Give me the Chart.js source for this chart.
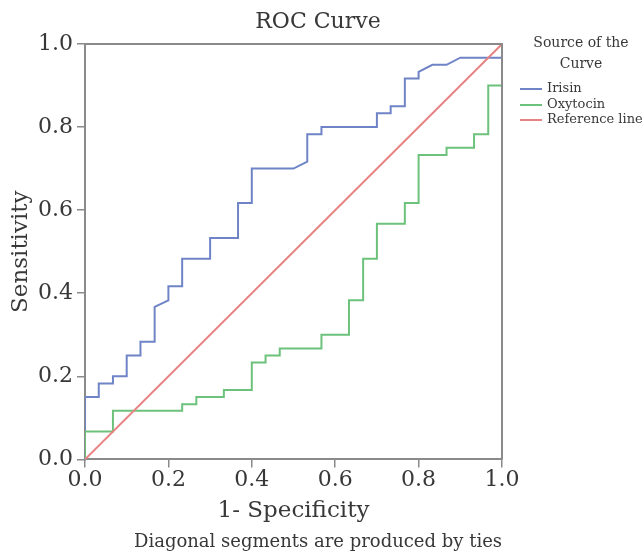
<!DOCTYPE html>
<html>
<head>
<meta charset="utf-8">
<script src="https://cdn.jsdelivr.net/npm/chart.js@4"></script>
<style>
  html, body { margin: 0; padding: 0; background: #fff; }
</style>
</head>
<body>
<canvas id="rocChart" width="644" height="556"></canvas>
<script>
// --- DADOS ---
const irisinFpr = [0, 0, 0.033, 0.033, 0.067, 0.067, 0.1, 0.1, 0.133, 0.133, 0.167, 0.167, 0.2, 0.2, 0.233, 0.233,
    0.3, 0.3, 0.367, 0.367, 0.4, 0.4, 0.5, 0.533, 0.533, 0.567, 0.567, 0.7, 0.7, 0.733, 0.733, 0.767, 0.767,
    0.8, 0.8, 0.833, 0.867, 0.9, 1, 1];
const irisinTpr = [0, 0.15, 0.15, 0.183, 0.183, 0.2, 0.2, 0.25, 0.25, 0.283, 0.283, 0.367, 0.383, 0.417, 0.417, 0.483,
    0.483, 0.533, 0.533, 0.617, 0.617, 0.7, 0.7, 0.717, 0.783, 0.783, 0.8, 0.8, 0.833, 0.833, 0.85, 0.85, 0.917,
    0.917, 0.933, 0.95, 0.95, 0.967, 0.967, 1];

const oxytocinFpr = [0, 0, 0.067, 0.067, 0.233, 0.233, 0.267, 0.267, 0.333, 0.333, 0.4, 0.4, 0.433, 0.433, 0.467, 0.467,
    0.567, 0.567, 0.633, 0.633, 0.667, 0.667, 0.7, 0.7, 0.767, 0.767, 0.8, 0.8, 0.867, 0.867, 0.933, 0.933,
    0.967, 0.967, 1, 1];
const oxytocinTpr = [0, 0.067, 0.067, 0.117, 0.117, 0.133, 0.133, 0.15, 0.15, 0.167, 0.167, 0.233, 0.233, 0.25, 0.25, 0.267,
    0.267, 0.3, 0.3, 0.383, 0.383, 0.483, 0.483, 0.567, 0.567, 0.617, 0.617, 0.733, 0.733, 0.75, 0.75, 0.783,
    0.783, 0.9, 0.9, 1];

const refFpr = [0, 1];
const refTpr = [0, 1];

const axisTicks = [0, 0.2, 0.4, 0.6, 0.8, 1.0];
const seriesNames = ['Irisin', 'Oxytocin', 'Reference line'];
const seriesColors = ['#6f84c6', '#6cc27b', '#e88383'];

const FONT = "'DejaVu Serif', serif";
const TEXT = '#383838';
const AXIS = '#8a8a8a';

function toPoints(xs, ys) {
    return xs.map((x, i) => ({ x: x, y: ys[i] }));
}

// moldura + legenda desenhadas à mão
const rocExtras = {
    id: 'rocExtras',
    afterDraw(chart) {
        const { ctx, chartArea } = chart;
        ctx.save();
        ctx.strokeStyle = AXIS;
        ctx.lineWidth = 2;
        ctx.beginPath();
        ctx.moveTo(chartArea.left, chartArea.top);
        ctx.lineTo(chartArea.right, chartArea.top);
        ctx.lineTo(chartArea.right, chartArea.bottom);
        ctx.stroke();

        ctx.fillStyle = TEXT;
        ctx.textBaseline = 'middle';
        ctx.textAlign = 'center';
        ctx.font = '14px ' + FONT;
        ctx.fillText('Source of the', 581, 43);
        ctx.fillText('Curve', 581, 64);

        ctx.font = '13px ' + FONT;
        ctx.textAlign = 'left';
        const rowsY = [89, 105, 120];
        seriesNames.forEach((name, i) => {
            ctx.strokeStyle = seriesColors[i];
            ctx.lineWidth = 2;
            ctx.beginPath();
            ctx.moveTo(520, rowsY[i]);
            ctx.lineTo(542, rowsY[i]);
            ctx.stroke();
            ctx.fillText(name, 547, rowsY[i]);
        });
        ctx.restore();
    }
};

const ctx = document.getElementById('rocChart').getContext('2d');
new Chart(ctx, {
    type: 'scatter',
    data: {
        datasets: [
            { label: seriesNames[0], data: toPoints(irisinFpr, irisinTpr), showLine: true,
              borderColor: seriesColors[0], borderWidth: 2, pointRadius: 0, order: 2 },
            { label: seriesNames[1], data: toPoints(oxytocinFpr, oxytocinTpr), showLine: true,
              borderColor: seriesColors[1], borderWidth: 2, pointRadius: 0, order: 1 },
            { label: seriesNames[2], data: toPoints(refFpr, refTpr), showLine: true,
              borderColor: seriesColors[2], borderWidth: 2, pointRadius: 0, order: 0 }
        ]
    },
    options: {
        responsive: false,
        animation: false,
        layout: { padding: { left: 0, right: 8, top: 0, bottom: 0 } },
        plugins: {
            legend: { display: false },
            tooltip: { enabled: false },
            title: {
                display: true,
                text: 'ROC Curve',
                color: TEXT,
                font: { family: FONT, size: 22, weight: 'normal' },
                padding: { top: 9, bottom: 8.6 }
            },
            subtitle: {
                display: true,
                position: 'bottom',
                text: 'Diagonal segments are produced by ties',
                color: TEXT,
                font: { family: FONT, size: 18, weight: 'normal' },
                padding: { top: 0, bottom: 2.4 }
            }
        },
        scales: {
            x: {
                type: 'linear',
                min: 0, max: 1,
                afterBuildTicks: s => { s.ticks = axisTicks.map(v => ({ value: v })); },
                afterFit: s => { s.height = 531.6 - 459; },
                ticks: { color: TEXT, padding: 0, font: { family: FONT, size: 22 },
                         callback: v => Number(v).toFixed(1), maxRotation: 0 },
                grid: { drawOnChartArea: false, drawTicks: true, tickLength: 8, color: AXIS, lineWidth: 1.5 },
                border: { display: true, color: AXIS, width: 2 },
                title: { display: true, text: '1- Specificity', color: TEXT,
                         font: { family: FONT, size: 23 }, padding: { top: 0, bottom: 6.8 } }
            },
            y: {
                type: 'linear',
                min: 0, max: 1,
                afterBuildTicks: s => { s.ticks = axisTicks.map(v => ({ value: v })); },
                afterFit: s => { s.width = 85; },
                ticks: { color: TEXT, padding: 4, font: { family: FONT, size: 22 },
                         callback: v => Number(v).toFixed(1) },
                grid: { drawOnChartArea: false, drawTicks: true, tickLength: 8, color: AXIS, lineWidth: 1.5 },
                border: { display: true, color: AXIS, width: 2 },
                title: { display: true, text: 'Sensitivity', color: TEXT,
                         font: { family: FONT, size: 23 }, padding: { top: 7.2, bottom: 0 } }
            },
            // eixo vazio só para reservar espaço da legenda à direita
            legendSpace: {
                type: 'linear',
                position: 'right',
                display: true,
                grid: { display: false },
                border: { display: false },
                ticks: { display: false },
                afterFit: s => { s.width = 134; }
            }
        }
    },
    plugins: [rocExtras]
});
</script>
</body>
</html>
